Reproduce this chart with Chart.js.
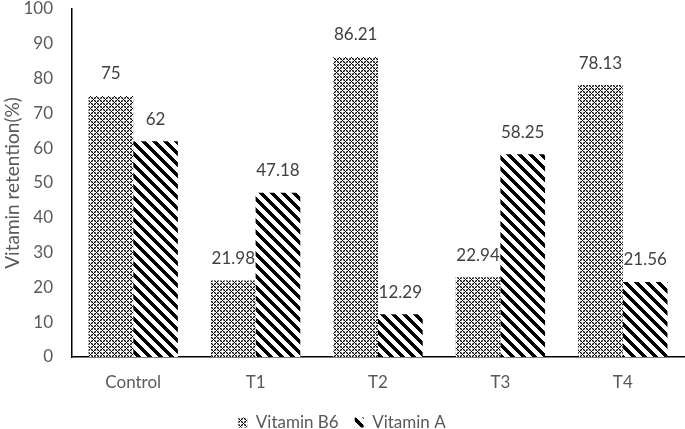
<!DOCTYPE html>
<html>
<head>
<meta charset="utf-8">
<script src="https://cdn.jsdelivr.net/npm/chart.js@4"></script>
<style>
  html, body { margin: 0; padding: 0; background: #fff; overflow: hidden; }
  #wrap { width: 685px; height: 429px; }
</style>
</head>
<body>
<div id="wrap"><canvas id="bar-chart" width="685" height="429"></canvas></div>
<script>
const categories = ['Control', 'T1', 'T2', 'T3', 'T4'];
const vitaminB6 = [75, 21.98, 86.21, 22.94, 78.13];
const vitaminA = [62, 47.18, 12.29, 58.25, 21.56];
const seriesNames = ['Vitamin B6', 'Vitamin A'];
const yTicks = [0, 10, 20, 30, 40, 50, 60, 70, 80, 90, 100];

const FONT = 'Lato, "Open Sans", sans-serif';

// dotted crosshatch fill like the Excel pattern
function makeCheckPattern() {
  const t = document.createElement('canvas');
  t.width = 6; t.height = 6;
  const c = t.getContext('2d');
  c.fillStyle = '#fff';
  c.fillRect(0, 0, 6, 6);
  for (let y = 0; y < 6; y++) {
    for (let x = 0; x < 6; x++) {
      const a = (x + y) % 6, b = (x - y + 6) % 6;
      if (a === 0 || b === 0) {
        c.fillStyle = '#000';
        c.fillRect(x, y, 1, 1);
      } else if ((a === 3) !== (b === 3)) {
        c.fillStyle = '#8c8c8c';
        c.fillRect(x, y, 1, 1);
      }
    }
  }
  return c.createPattern(t, 'repeat');
}

// thick "\" stripes
function makeStripePattern() {
  const n = 11;
  const t = document.createElement('canvas');
  t.width = n; t.height = n;
  const c = t.getContext('2d');
  c.fillStyle = '#fff';
  c.fillRect(0, 0, n, n);
  c.fillStyle = '#000';
  for (let y = 0; y < n; y++) {
    for (let x = 0; x < n; x++) {
      if (((x - y) % n + n) % n < 5) c.fillRect(x, y, 1, 1);
    }
  }
  return c.createPattern(t, 'repeat');
}

const valueLabels = {
  id: 'valueLabels',
  afterDatasetsDraw(chart) {
    const ctx = chart.ctx;
    ctx.save();
    ctx.font = '17px ' + FONT;
    ctx.fillStyle = '#404040';
    ctx.textAlign = 'center';
    ctx.textBaseline = 'middle';
    chart.data.datasets.forEach((ds, i) => {
      chart.getDatasetMeta(i).data.forEach((bar, j) => {
        ctx.fillText(String(ds.data[j]), bar.x, bar.y - 22);
      });
    });
    ctx.restore();
  }
};

const ctx = document.getElementById('bar-chart');
new Chart(ctx, {
  type: 'bar',
  data: {
    labels: categories,
    datasets: [
      { label: seriesNames[0], data: vitaminB6, backgroundColor: makeCheckPattern(), borderWidth: 0 },
      { label: seriesNames[1], data: vitaminA, backgroundColor: makeStripePattern(), borderWidth: 0 }
    ]
  },
  options: {
    responsive: false,
    animation: false,
    layout: { padding: { top: 9, right: 1, left: 0, bottom: -12 } },
    datasets: { bar: { categoryPercentage: 0.73, barPercentage: 1 } },
    plugins: {
      tooltip: { enabled: false },
      legend: {
        position: 'bottom',
        labels: {
          font: { family: FONT, size: 17 },
          color: '#595959',
          boxWidth: 9,
          boxHeight: 10,
          padding: 16
        }
      }
    },
    scales: {
      x: {
        grid: { display: false, drawTicks: false },
        border: { display: true, color: '#000', width: 1.5 },
        ticks: { font: { family: FONT, size: 17 }, color: '#595959', padding: 15 },
        afterFit(scale) {
          scale.height = 41;
          scale.paddingLeft = 0;
          scale.paddingRight = 0;
        }
      },
      y: {
        min: 0,
        max: 100,
        afterBuildTicks(scale) { scale.ticks = yTicks.map(v => ({ value: v })); },
        grid: { display: false, drawTicks: false },
        border: { display: true, color: '#000', width: 1.5 },
        ticks: { font: { family: FONT, size: 17 }, color: '#595959', padding: 19 },
        title: {
          display: true,
          text: 'Vitamin retention(%)',
          font: { family: FONT, size: 19 },
          color: '#595959',
          padding: { top: 1, bottom: 0 }
        },
        afterFit(scale) {
          scale.width = 72;
          scale.paddingTop = 0;
          scale.paddingBottom = 0;
        }
      }
    }
  },
  plugins: [valueLabels]
});
</script>
</body>
</html>
